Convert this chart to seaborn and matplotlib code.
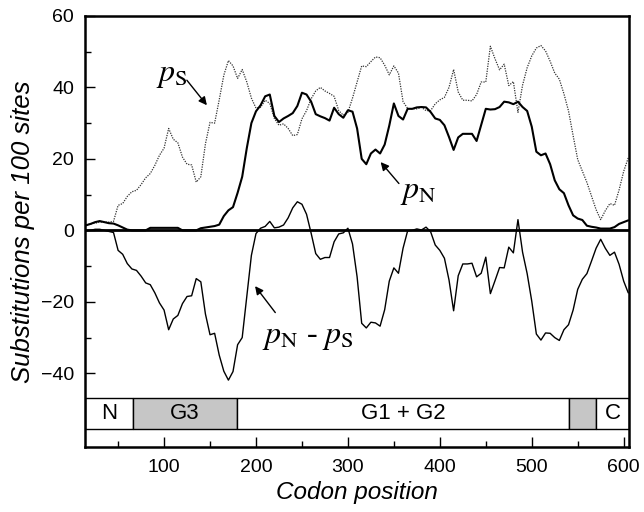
import numpy as np
import pandas as pd
import seaborn as sns
import matplotlib
matplotlib.use("Agg")
import matplotlib.pyplot as plt
from matplotlib.ticker import MultipleLocator

# sliding-window estimates, every 5 codons
codon = list(range(15, 606, 5))

p_s = [
    1.5, 1.8, 2.0, 2.3, 2.3, 2.3, 2.5, 7.0, 7.5, 9.5,
    10.8, 11.2, 12.8, 14.7, 15.9, 18.2, 21.0, 23.0, 28.5, 25.5,
    24.5, 20.5, 18.5, 18.3, 13.5, 15.0, 24.2, 30.2, 30.0, 36.5,
    43.4, 47.5, 46.0, 42.5, 45.0, 41.5, 37.0, 34.2, 34.4, 36.4,
    35.5, 31.3, 29.4, 29.8, 28.5, 26.5, 26.8, 31.2, 33.5, 36.8,
    39.0, 40.0, 39.0, 38.3, 37.5, 33.5, 32.2, 33.0, 37.0, 41.5,
    46.0, 45.8, 47.2, 48.5, 48.3, 46.2, 43.5, 46.0, 44.0, 36.0,
    34.1, 34.0, 34.0, 34.4, 33.5, 33.5, 35.4, 36.5, 37.2, 40.0,
    45.0, 38.7, 36.4, 36.4, 36.2, 38.0, 41.5, 41.5, 51.5, 48.0,
    44.9, 46.5, 40.5, 41.6, 33.0, 40.6, 45.5, 48.8, 51.0, 51.7,
    50.2, 47.3, 44.0, 42.3, 38.2, 33.4, 26.5, 19.8, 16.6, 13.4,
    9.6, 5.8, 3.0, 5.5, 7.5, 7.0, 11.3, 16.5, 20.3,
]

p_n = [
    1.4, 1.8, 2.3, 2.6, 2.3, 2.0, 1.9, 1.4, 0.8, 0.2,
    0.0, 0.0, 0.0, 0.0, 0.7, 0.7, 0.7, 0.7, 0.7, 0.7,
    0.7, 0.0, 0.0, 0.0, 0.0, 0.6, 0.8, 1.0, 1.2, 1.6,
    4.0, 5.6, 6.5, 10.5, 15.0, 23.0, 30.0, 33.3, 35.0, 37.5,
    38.0, 32.0, 30.3, 31.3, 32.0, 32.8, 34.8, 38.5, 38.0, 36.0,
    32.5, 31.9, 31.4, 30.7, 34.3, 32.5, 31.5, 33.6, 33.2, 28.5,
    20.0, 18.5, 21.5, 22.6, 21.5, 24.0, 29.3, 35.5, 32.0, 31.0,
    34.0, 34.0, 34.4, 34.5, 34.4, 33.1, 31.3, 30.9, 29.4, 26.1,
    22.5, 26.0, 27.0, 27.0, 27.0, 25.0, 29.5, 34.0, 33.8, 33.9,
    34.5, 36.0, 35.8, 35.3, 36.0, 34.5, 33.4, 29.0, 22.0, 21.0,
    21.5, 18.5, 14.0, 11.5, 10.4, 7.0, 4.2, 3.3, 2.9, 1.3,
    1.0, 0.8, 0.5, 0.5, 0.5, 0.9, 1.8, 2.3, 2.8,
]

# gene domains drawn as a strip under the curves
domain_labels = ["N", "G3", "G1 + G2", "", "C"]
domain_start = [14, 66, 179, 541, 570]
domain_end = [66, 179, 541, 570, 606]
domain_shaded = [False, True, False, True, False]

df = pd.DataFrame({"codon": codon, "pS": p_s, "pN": p_n})
df["diff"] = df["pN"] - df["pS"]

sns.set_theme(style="ticks")
plt.rcParams["font.family"] = ["Liberation Sans", "DejaVu Sans"]
plt.rcParams["mathtext.fontset"] = "stix"
for key in ["text.color", "axes.labelcolor", "xtick.color", "ytick.color"]:
    plt.rcParams[key] = "black"

fig, ax = plt.subplots(figsize=(6.44, 5.12), dpi=100)
fig.subplots_adjust(left=0.132, right=0.977, top=0.969, bottom=0.127)

sns.lineplot(data=df, x="codon", y="pS", ax=ax, color="#333333",
             lw=0.9, linestyle=(0, (1, 1)))
sns.lineplot(data=df, x="codon", y="pN", ax=ax, color="black", lw=1.5)
sns.lineplot(data=df, x="codon", y="diff", ax=ax, color="black", lw=1.0)
ax.axhline(0, color="black", lw=2)

# domain strip
bar_y, bar_h = -51.25, 8.5
for lab, s, e, sh in zip(domain_labels, domain_start, domain_end, domain_shaded):
    ax.barh(bar_y, e - s, left=s, height=bar_h,
            color="#c6c6c6" if sh else "white", edgecolor="black", lw=1)
    if lab:
        ax.text((s + e) / 2, bar_y, lab, ha="center", va="center", fontsize=16)

# curve labels and their arrows
arrow = dict(arrowstyle="-|>", color="black", lw=1, mutation_scale=12,
             shrinkA=0, shrinkB=0)
ax.text(108.8, 43.4, r"$p_{\mathrm{S}}$", fontsize=23, ha="center", va="center")
ax.annotate("", xy=(146.6, 35), xytext=(124.8, 42), arrowprops=arrow)
ax.text(377, 10.6, r"$p_{\mathrm{N}}$", fontsize=23, ha="center", va="center")
ax.annotate("", xy=(335.6, 19.1), xytext=(355.5, 13.1), arrowprops=arrow)
ax.text(256, -30, r"$p_{\mathrm{N}}$ - $p_{\mathrm{S}}$", fontsize=23,
        ha="center", va="center", family="Liberation Serif")
ax.annotate("", xy=(199, -15.6), xytext=(221, -23), arrowprops=arrow)

ax.set_xlim(14, 606)
ax.set_ylim(-60.6, 60)
ax.set_xticks([100, 200, 300, 400, 500, 600])
ax.xaxis.set_minor_locator(MultipleLocator(50))
ax.set_yticks([-40, -20, 0, 20, 40, 60])
ax.set_yticks([-30, -10, 10, 30, 50], minor=True)
ax.tick_params(which="both", direction="in", labelsize=14, color="black",
               labelcolor="black")
ax.tick_params(axis="x", which="major", length=7, width=1, pad=9)
ax.tick_params(axis="x", which="minor", length=4, width=1)
ax.tick_params(axis="y", which="major", length=7, width=1, pad=8)
ax.tick_params(axis="y", which="minor", length=4, width=1)
for sp in ax.spines.values():
    sp.set_visible(True)
    sp.set_linewidth(1.8)
    sp.set_color("black")

ax.set_xlabel("Codon position", fontsize=17.5, style="italic", labelpad=3)
ax.set_ylabel("Substitutions per 100 sites", fontsize=18.5, style="italic", labelpad=4)

fig.savefig("out.png", dpi=100)
